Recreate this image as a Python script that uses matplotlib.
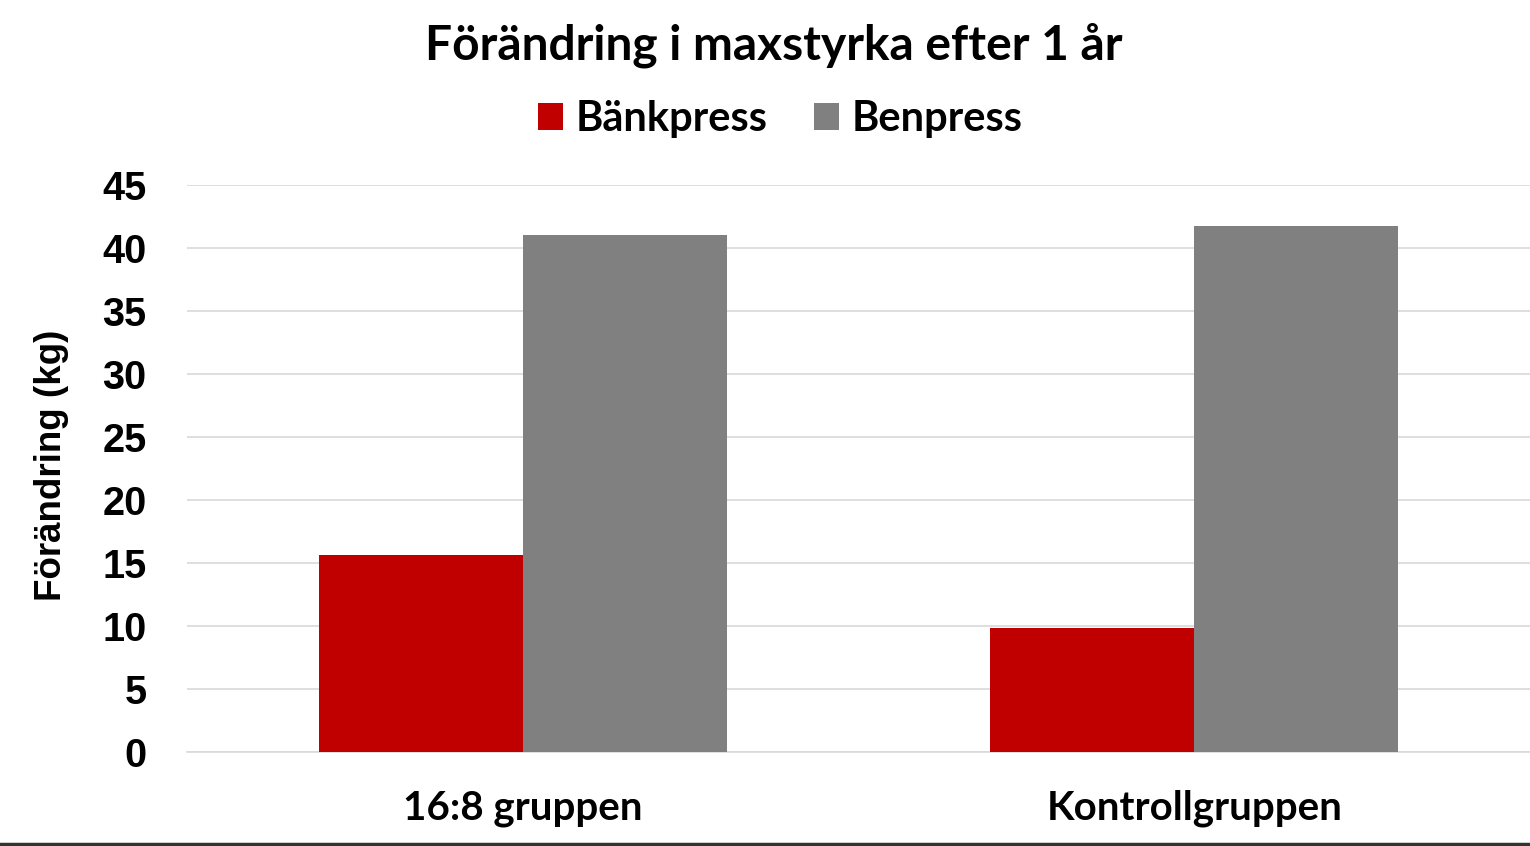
import numpy as np
import matplotlib.pyplot as plt
from matplotlib.lines import Line2D

# data
groups = ['16:8 gruppen', 'Kontrollgruppen']
bankpress = [15.6, 9.8]
benpress = [41.0, 41.7]
series_names = ['Bänkpress', 'Benpress']
yticks = [0, 5, 10, 15, 20, 25, 30, 35, 40, 45]

RED = '#c00000'
GREY = '#808080'
HEAD_FONT = ['Lato', 'DejaVu Sans']
TICK_FONT = ['Liberation Sans', 'DejaVu Sans']

fig = plt.figure(figsize=(15.3, 8.46), dpi=100)
ax = fig.add_axes([0.1222, 0.1111, 0.8778, 0.6706])

x = np.arange(len(groups))
w = 0.304
ax.bar(x - w / 2, bankpress, width=w, color=RED, label=series_names[0], zorder=3)
ax.bar(x + w / 2, benpress, width=w, color=GREY, label=series_names[1], zorder=3)

ax.set_xlim(-0.5, 1.5)
ax.set_ylim(0, 45)
ax.set_yticks(yticks)
ax.set_yticklabels([str(t) for t in yticks], fontsize=28.5, fontweight='bold', family=TICK_FONT)
ax.set_xticks(x)
ax.set_xticklabels(groups, fontsize=29, fontweight='bold', family=HEAD_FONT)
ax.tick_params(axis='both', length=0)
ax.tick_params(axis='y', pad=29)
ax.tick_params(axis='x', pad=27)
ax.yaxis.grid(True, color='#d9d9d9', linewidth=1.2, zorder=0)
for s in ['top', 'right', 'left']:
    ax.spines[s].set_visible(False)
ax.spines['bottom'].set_color('#d9d9d9')
ax.spines['bottom'].set_linewidth(1.2)

ax.set_ylabel('Förändring (kg)', fontsize=26.5, fontweight='bold', family=TICK_FONT)
ax.yaxis.set_label_coords(-0.088, 0.505)

fig.text(0.5055, 0.947, 'Förändring i maxstyrka efter 1 år', ha='center', va='center',
         fontsize=34.5, fontweight='bold', family=HEAD_FONT)

fig.legend(loc='center', bbox_to_anchor=(0.51, 0.859), ncol=2, frameon=False,
           prop={'family': HEAD_FONT, 'weight': 'bold', 'size': 30},
           handlelength=0.6, handleheight=0.6, handletextpad=0.3, columnspacing=1.1)

# thin dark border at the bottom edge of the screenshot
fig.add_artist(Line2D([0, 1], [0.002, 0.002], color='#333333', linewidth=2.5,
                      transform=fig.transFigure))

fig.savefig('out.png', dpi=100, facecolor='white')
